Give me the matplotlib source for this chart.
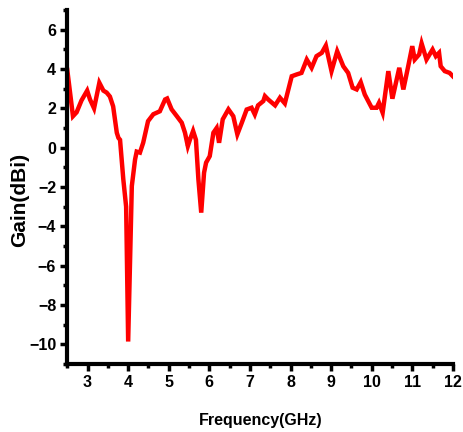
import matplotlib
matplotlib.use('Agg')
import matplotlib.pyplot as plt
from matplotlib.ticker import MultipleLocator

# Frecuencia (GHz) y ganancia (dBi)
freq = [2.50, 2.64, 2.73, 2.85, 2.99, 3.06, 3.16, 3.29, 3.39, 3.47, 3.55, 3.63,
        3.72, 3.76, 3.80, 3.88, 3.95, 4.00, 4.09, 4.17, 4.21, 4.29, 4.37, 4.49,
        4.62, 4.78, 4.91, 4.96, 5.07, 5.20, 5.32, 5.40, 5.47, 5.52, 5.60, 5.67,
        5.73, 5.80, 5.87, 5.92, 6.01, 6.10, 6.18, 6.24, 6.33, 6.47, 6.59, 6.69,
        6.80, 6.92, 7.04, 7.12, 7.20, 7.33, 7.37, 7.45, 7.62, 7.74, 7.86, 8.03,
        8.15, 8.27, 8.40, 8.52, 8.64, 8.77, 8.87, 9.01, 9.15, 9.30, 9.42, 9.53,
        9.63, 9.73, 9.83, 10.00, 10.12, 10.18, 10.27, 10.41, 10.51, 10.68, 10.78,
        10.90, 11.00, 11.06, 11.17, 11.23, 11.35, 11.50, 11.58, 11.66, 11.70,
        11.80, 11.92, 12.00]
gain = [3.95, 1.60, 1.80, 2.40, 2.90, 2.45, 2.00, 3.30, 2.90, 2.80, 2.60, 2.10,
        0.76, 0.50, 0.40, -1.60, -3.00, -9.85, -1.95, -0.60, -0.20, -0.25, 0.25, 1.35,
        1.70, 1.85, 2.45, 2.50, 1.95, 1.60, 1.27, 0.76, 0.08, 0.40, 0.85, 0.40,
        -1.60, -3.30, -1.27, -0.76, -0.43, 0.76, 1.00, 0.25, 1.44, 1.95, 1.60, 0.68,
        1.27, 1.94, 2.03, 1.69, 2.15, 2.37, 2.62, 2.45, 2.15, 2.54, 2.25, 3.63,
        3.72, 3.80, 4.48, 4.06, 4.65, 4.82, 5.19, 3.89, 4.90, 4.14, 3.80, 3.05,
        2.96, 3.33, 2.70, 2.03, 2.03, 2.28, 1.78, 3.89, 2.49, 4.06, 2.96,
        4.14, 5.16, 4.48, 4.74, 5.30, 4.48, 4.99, 4.65, 4.82, 4.14,
        3.89, 3.80, 3.63]

plt.rcParams['font.family'] = ['Liberation Sans', 'DejaVu Sans']
plt.rcParams['font.weight'] = 'bold'

fig = plt.figure(figsize=(4.64, 4.32), dpi=100)
ax = fig.add_axes([0.145, 0.157, 0.831, 0.820])

ax.plot(freq, gain, color='#ff0000', linewidth=3.2, solid_joinstyle='miter')

ax.set_xlim(2.5, 12)
ax.set_ylim(-11, 7)
ax.xaxis.set_major_locator(MultipleLocator(1))
ax.xaxis.set_minor_locator(MultipleLocator(0.5))
ax.yaxis.set_major_locator(MultipleLocator(2))
ax.yaxis.set_minor_locator(MultipleLocator(1))

for lado in ['top', 'right']:
    ax.spines[lado].set_visible(False)
for lado in ['left', 'bottom']:
    ax.spines[lado].set_linewidth(3)

ax.tick_params(which='major', direction='out', length=5, width=2.5,
               labelsize=11.5, pad=3)
ax.tick_params(which='minor', direction='out', length=3, width=2.5)
for lab in ax.get_xticklabels() + ax.get_yticklabels():
    lab.set_fontweight('bold')

# Etiquetas de ejes colocadas en coordenadas de figura
fig.text(261 / 464, 1 - 420 / 432, 'Frequency(GHz)', ha='center', va='center',
         fontsize=11.5, fontweight='bold')
fig.text(20 / 464, 1 - 200 / 432, 'Gain(dBi)', ha='center', va='center',
         rotation=90, fontsize=15, fontweight='bold')

fig.savefig('out.png', dpi=100)
